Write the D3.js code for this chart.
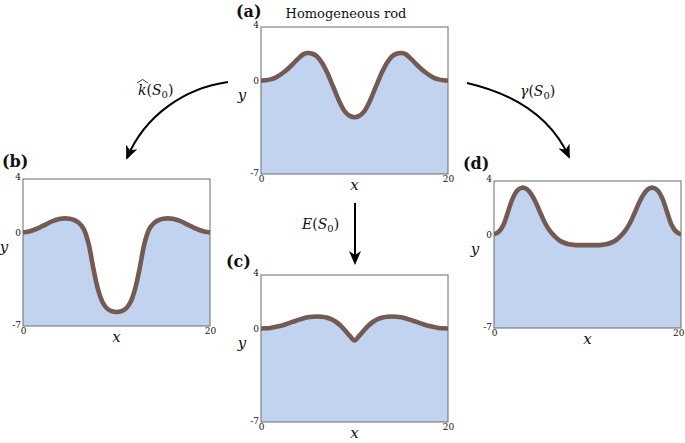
<!DOCTYPE html>
<html>
<head>
<meta charset="utf-8">
<script src="https://cdn.jsdelivr.net/npm/d3@7"></script>
<style>
  html, body { margin: 0; padding: 0; background: #ffffff; }
  svg { display: block; }
  svg text { font-family: "DejaVu Serif", "Liberation Serif", serif !important; fill: #111; }
</style>
</head>
<body>
<svg id="chart" width="685" height="443"></svg>
<script>
// ---------- data ----------
const xValues = [0,0.5,1,1.5,2,2.5,3,3.5,4,4.5,5,5.5,6,6.5,7,7.5,8,8.5,9,9.5,10,
                 10.5,11,11.5,12,12.5,13,13.5,14,14.5,15,15.5,16,16.5,17,17.5,18,18.5,19,19.5,20];

// (a) Homogeneous rod
const rodA = [0,0.02,0.08,0.2,0.4,0.65,0.95,1.3,1.65,1.95,2.05,2.0,1.8,1.35,0.7,-0.1,-0.95,-1.75,-2.35,-2.65,-2.75,
              -2.65,-2.35,-1.75,-0.95,-0.1,0.7,1.35,1.8,2.0,2.05,1.95,1.65,1.3,0.95,0.65,0.4,0.2,0.08,0.02,0];
// (b) varying k-hat(S0)
const rodB = [0,0.05,0.15,0.28,0.45,0.62,0.8,0.93,1.02,1.05,1.02,0.92,0.7,0.25,-0.8,-2.6,-4.2,-5.2,-5.7,-5.9,-5.95,
              -5.9,-5.7,-5.2,-4.2,-2.6,-0.8,0.25,0.7,0.92,1.02,1.05,1.02,0.93,0.8,0.62,0.45,0.28,0.15,0.05,0];
// (c) varying E(S0)
const rodC = [0,0.01,0.04,0.1,0.18,0.28,0.4,0.52,0.64,0.75,0.83,0.88,0.9,0.88,0.82,0.7,0.5,0.22,-0.15,-0.55,-0.9,
              -0.55,-0.15,0.22,0.5,0.7,0.82,0.88,0.9,0.88,0.83,0.75,0.64,0.52,0.4,0.28,0.18,0.1,0.04,0.01,0];
// (d) varying gamma(S0)
const rodD = [0,0.2,0.7,1.7,2.7,3.3,3.5,3.4,3.0,2.35,1.55,0.8,0.25,-0.15,-0.45,-0.62,-0.73,-0.78,-0.8,-0.8,-0.8,
              -0.8,-0.8,-0.78,-0.73,-0.62,-0.45,-0.15,0.25,0.8,1.55,2.35,3.0,3.4,3.5,3.3,2.7,1.7,0.7,0.2,0];

const xDomain = [0, 20];
const yDomain = [-7, 4];
const xTicks = [0, 20];
const yTicks = [-7, 0, 4];
const panelLabels = ["(a)", "(b)", "(c)", "(d)"];
const titleA = "Homogeneous rod";

// ---------- layout ----------
const svg = d3.select("#chart");
const W = 187, H = 147;
const panels = [
  { key: "a", data: rodA, left: 261, top: 27,  label: panelLabels[0], lx: 236, ly: 17 },
  { key: "b", data: rodB, left: 23,  top: 179, label: panelLabels[1], lx: 2,   ly: 167 },
  { key: "c", data: rodC, left: 261, top: 275, label: panelLabels[2], lx: 226, ly: 267 },
  { key: "d", data: rodD, left: 494, top: 181, label: panelLabels[3], lx: 463, ly: 169 }
];

const fillColor = "#c2d3ef";
const lineColor = "#735a52";

panels.forEach(p => {
  const x = d3.scaleLinear().domain(xDomain).range([p.left, p.left + W]);
  const y = d3.scaleLinear().domain(yDomain).range([p.top + H, p.top]);
  const pts = xValues.map((xv, i) => [xv, p.data[i]]);

  const g = svg.append("g");

  const clipId = "clip-" + p.key;
  g.append("clipPath").attr("id", clipId)
    .append("rect").attr("x", p.left).attr("y", p.top).attr("width", W).attr("height", H);

  const area = d3.area()
    .x(d => x(d[0])).y0(y(yDomain[0])).y1(d => y(d[1]))
    .curve(d3.curveCatmullRom.alpha(0.5));
  g.append("path").datum(pts)
    .attr("d", area).attr("fill", fillColor)
    .attr("clip-path", `url(#${clipId})`);

  // frame
  g.append("rect")
    .attr("x", p.left).attr("y", p.top).attr("width", W).attr("height", H)
    .attr("fill", "none").attr("stroke", "#6a6a6a").attr("stroke-width", 1);

  const line = d3.line()
    .x(d => x(d[0])).y(d => y(d[1]))
    .curve(d3.curveCatmullRom.alpha(0.5));
  g.append("path").datum(pts)
    .attr("d", line).attr("fill", "none")
    .attr("stroke", lineColor).attr("stroke-width", 4.6)
    .attr("stroke-linecap", "butt").attr("stroke-linejoin", "round")
    .attr("clip-path", `url(#${clipId})`);

  // axes (tick labels only)
  const yAxis = d3.axisLeft(y).tickValues(yTicks).tickSize(0).tickPadding(2)
    .tickFormat(d => d < 0 ? "-" + Math.abs(d) : String(d));
  const ya = g.append("g").attr("transform", `translate(${p.left},0)`).call(yAxis);
  ya.select(".domain").remove();
  ya.selectAll("text").attr("font-size", 9).attr("fill", "#222");
  ya.selectAll(".tick").filter(d => d === 4).select("text").attr("dy", "0.1em");
  ya.selectAll(".tick").filter(d => d === -7).select("text").attr("dy", "0.15em");

  const xAxis = d3.axisBottom(x).tickValues(xTicks).tickSize(0).tickPadding(2);
  const xa = g.append("g").attr("transform", `translate(0,${p.top + H})`).call(xAxis);
  xa.select(".domain").remove();
  xa.selectAll("text").attr("font-size", 9).attr("fill", "#222");
  if (p.key === "d") {
    xa.selectAll(".tick").filter(d => d === 20).select("text")
      .attr("text-anchor", "end").attr("dx", "3");
  }

  // axis titles
  g.append("text").attr("x", p.left - 19).attr("y", y(0) + 20)
    .attr("text-anchor", "middle").attr("font-size", 15).attr("font-style", "italic").text("y");
  g.append("text").attr("x", p.left + W / 2).attr("y", p.top + H + 16)
    .attr("text-anchor", "middle").attr("font-size", 15).attr("font-style", "italic").text("x");

  // panel label
  g.append("text").attr("x", p.lx).attr("y", p.ly)
    .attr("font-size", 16).attr("font-weight", "bold").text(p.label);
});

// title for (a)
svg.append("text").attr("x", 346).attr("y", 18).attr("text-anchor", "middle")
  .attr("font-size", 13).text(titleA);

// ---------- arrows ----------
const defs = svg.append("defs");
defs.append("marker").attr("id", "head")
  .attr("viewBox", "0 0 14 12").attr("refX", 12).attr("refY", 6)
  .attr("markerWidth", 14).attr("markerHeight", 12)
  .attr("markerUnits", "userSpaceOnUse").attr("orient", "auto")
  .append("path").attr("d", "M0,0 L14,6 L0,12 L4,6 Z").attr("fill", "#000");

svg.append("path").attr("d", "M228,82 C185,88 145,115 127,158")
  .attr("fill", "none").attr("stroke", "#000").attr("stroke-width", 2)
  .attr("marker-end", "url(#head)");
svg.append("path").attr("d", "M467,83 C510,93 550,115 569,157")
  .attr("fill", "none").attr("stroke", "#000").attr("stroke-width", 2)
  .attr("marker-end", "url(#head)");
svg.append("path").attr("d", "M355,203 L355,263")
  .attr("fill", "none").attr("stroke", "#000").attr("stroke-width", 2)
  .attr("marker-end", "url(#head)");

// ---------- arrow labels ----------
function mathLabel(xPos, yPos, fn, hat) {
  const t = svg.append("text").attr("x", xPos).attr("y", yPos).attr("font-size", 14);
  t.append("tspan").attr("font-style", "italic").text(fn);
  t.append("tspan").text("(");
  t.append("tspan").attr("font-style", "italic").text("S");
  t.append("tspan").attr("font-size", 10).attr("dy", 3).text("0");
  t.append("tspan").attr("dy", -3).text(")");
  if (hat) {
    svg.append("path")
      .attr("d", `M${xPos - 1},${yPos - 12} L${xPos + 4.5},${yPos - 15.5} L${xPos + 10},${yPos - 12}`)
      .attr("fill", "none").attr("stroke", "#111").attr("stroke-width", 0.8);
  }
}
mathLabel(138, 95, "k", true);
mathLabel(520, 96, "γ", false);
mathLabel(302, 229, "E", false);
</script>
</body>
</html>
